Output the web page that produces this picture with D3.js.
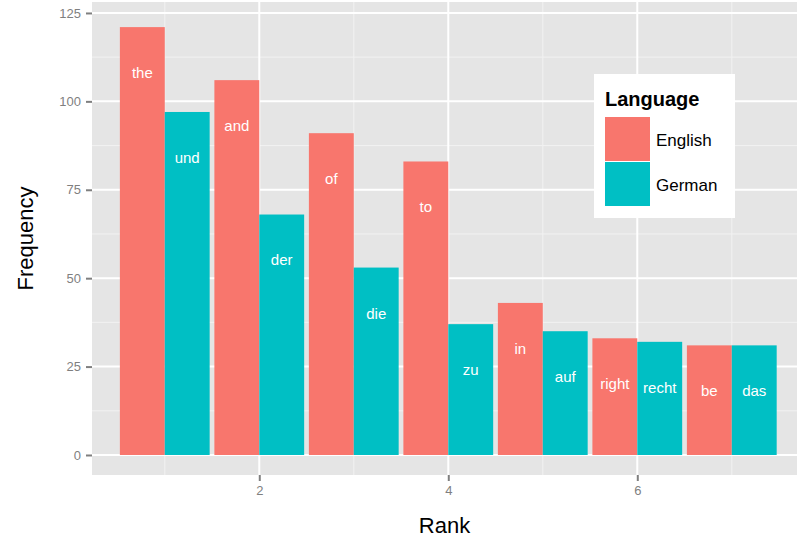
<!DOCTYPE html>
<html><head><meta charset="utf-8">
<script src="https://cdn.jsdelivr.net/npm/d3@7"></script>
<style>body{margin:0;background:#fff;font-family:"Liberation Sans",Arial,sans-serif}</style>
</head><body><div id="chart"></div>
<script>
const width = 799, height = 544
const margin = {top: 2, right: 2, bottom: 69, left: 92}
const ranks = [1, 2, 3, 4, 5, 6, 7]
const english = [121, 106, 91, 83, 43, 33, 31]
const englishWords = ["the", "and", "of", "to", "in", "right", "be"]
const german = [97, 68, 53, 37, 35, 32, 31]
const germanWords = ["und", "der", "die", "zu", "auf", "recht", "das"]
const languages = ["English", "German"]
const colors = ["#F8766D", "#00BFC4"]
const yTicks = [0, 25, 50, 75, 100, 125]
const xTicks = [2, 4, 6]

const svg = d3.select("#chart").append("svg").attr("width", width).attr("height", height)
const pw = width - margin.left - margin.right, ph = height - margin.top - margin.bottom
const g = svg.append("g").attr("transform", "translate(" + margin.left + "," + margin.top + ")")
const x = d3.scaleLinear().domain([0.23, 7.69]).range([0, pw])
const y = d3.scaleLinear().domain([-5.66, 128.1]).range([ph, 0])

g.append("rect").attr("width", pw).attr("height", ph).attr("fill", "#E5E5E5")
// minor grid
yTicks.slice(0, -1).forEach(t => g.append("line").attr("x1", 0).attr("x2", pw)
  .attr("y1", y(t + 12.5)).attr("y2", y(t + 12.5)).attr("stroke", "#F2F2F2").attr("stroke-width", 1))
;[1, 3, 5, 7].forEach(t => g.append("line").attr("y1", 0).attr("y2", ph)
  .attr("x1", x(t)).attr("x2", x(t)).attr("stroke", "#F2F2F2").attr("stroke-width", 1))
// major grid
yTicks.forEach(t => g.append("line").attr("x1", 0).attr("x2", pw)
  .attr("y1", y(t)).attr("y2", y(t)).attr("stroke", "#fff").attr("stroke-width", 2))
xTicks.forEach(t => g.append("line").attr("y1", 0).attr("y2", ph)
  .attr("x1", x(t)).attr("x2", x(t)).attr("stroke", "#fff").attr("stroke-width", 2))

const bw = 0.475
function drawBars(vals, words, col, off) {
  const sel = g.selectAll(null).data(ranks).enter()
  sel.append("rect").attr("x", d => x(d + off)).attr("width", x(bw) - x(0))
    .attr("y", (d, i) => y(vals[i])).attr("height", (d, i) => y(0) - y(vals[i])).attr("fill", col)
  sel.append("text").attr("x", d => x(d + off + bw / 2)).attr("y", (d, i) => y(vals[i] - 13) + 5)
    .attr("text-anchor", "middle").attr("fill", "#fff").attr("font-size", 15).text((d, i) => words[i])
}
drawBars(english, englishWords, colors[0], -bw)
drawBars(german, germanWords, colors[1], 0)

// axes
const yAxis = g.append("g").call(d3.axisLeft(y).tickValues(yTicks).tickSize(6).tickPadding(5))
const xAxis = g.append("g").attr("transform", "translate(0," + ph + ")")
  .call(d3.axisBottom(x).tickValues(xTicks).tickSize(6).tickPadding(5))
;[yAxis, xAxis].forEach(a => {
  a.select(".domain").remove()
  a.selectAll("line").attr("stroke", "#7F7F7F").attr("stroke-width", 2)
  a.selectAll("text").attr("fill", "#7F7F7F").attr("font-size", 13).attr("font-family", "Liberation Sans")
})
svg.append("text").attr("x", margin.left + pw / 2).attr("y", 533).attr("text-anchor", "middle")
  .attr("font-size", 22).text("Rank")
svg.append("text").attr("transform", "translate(33," + (margin.top + ph / 2) + ") rotate(-90)")
  .attr("text-anchor", "middle").attr("font-size", 22).text("Frequency")

// legend
const lg = svg.append("g").attr("transform", "translate(594,74)")
lg.append("rect").attr("width", 141).attr("height", 144).attr("fill", "#fff")
lg.append("text").attr("x", 11).attr("y", 32).attr("font-size", 20).attr("font-weight", "bold").text("Language")
languages.forEach((l, i) => {
  lg.append("rect").attr("x", 11).attr("y", 43 + i * 45).attr("width", 45).attr("height", 44).attr("fill", colors[i])
  lg.append("text").attr("x", 62).attr("y", 72 + i * 45).attr("font-size", 17).text(l)
})
</script></body></html>
